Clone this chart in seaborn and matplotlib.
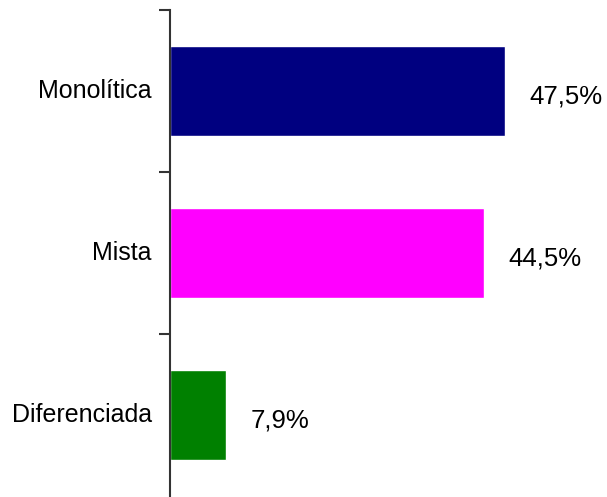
import matplotlib
matplotlib.use("Agg")
import matplotlib.pyplot as plt
import seaborn as sns
import pandas as pd
from matplotlib.ticker import FixedLocator

categorias = ["Monolítica", "Mista", "Diferenciada"]
valores = [47.5, 44.5, 7.9]
rotulos = ["47,5%", "44,5%", "7,9%"]
cores = ["#000080", "#FF00FF", "#008000"]

sns.set_style("white")
plt.rcParams["font.family"] = ["Liberation Sans", "DejaVu Sans"]

df = pd.DataFrame({"categoria": categorias, "valor": valores})

fig = plt.figure(figsize=(6.07, 4.97), dpi=100)
ax = fig.add_axes([170 / 607, 1 / 497, 1 - 170 / 607, 486 / 497])

sns.barplot(data=df, x="valor", y="categoria", hue="categoria",
            palette=cores, orient="h", width=0.56, legend=False,
            saturation=1, ax=ax)

ax.set_xlim(0, 62)
ax.set_ylim(2.5, -0.5)
ax.set_xlabel("")
ax.set_ylabel("")
ax.set_xticks([])

for s in ["top", "right", "bottom"]:
    ax.spines[s].set_visible(False)
ax.spines["left"].set_color("#333333")
ax.spines["left"].set_linewidth(1.5)

ax.tick_params(axis="y", which="major", length=0, pad=13, labelsize=18,
               labelcolor="black")
ax.yaxis.set_minor_locator(FixedLocator([-0.5, 0.5, 1.5]))
ax.tick_params(axis="y", which="minor", length=8, width=1.5, color="#333333",
               direction="out", left=True)
for lab in ax.get_yticklabels():
    lab.set_verticalalignment("center")

for i, (v, t) in enumerate(zip(valores, rotulos)):
    ax.annotate(t, xy=(v, i), xytext=(18, -4), textcoords="offset points",
                ha="left", va="center", fontsize=18.5, color="black")

fig.savefig("out.png", dpi=100)
